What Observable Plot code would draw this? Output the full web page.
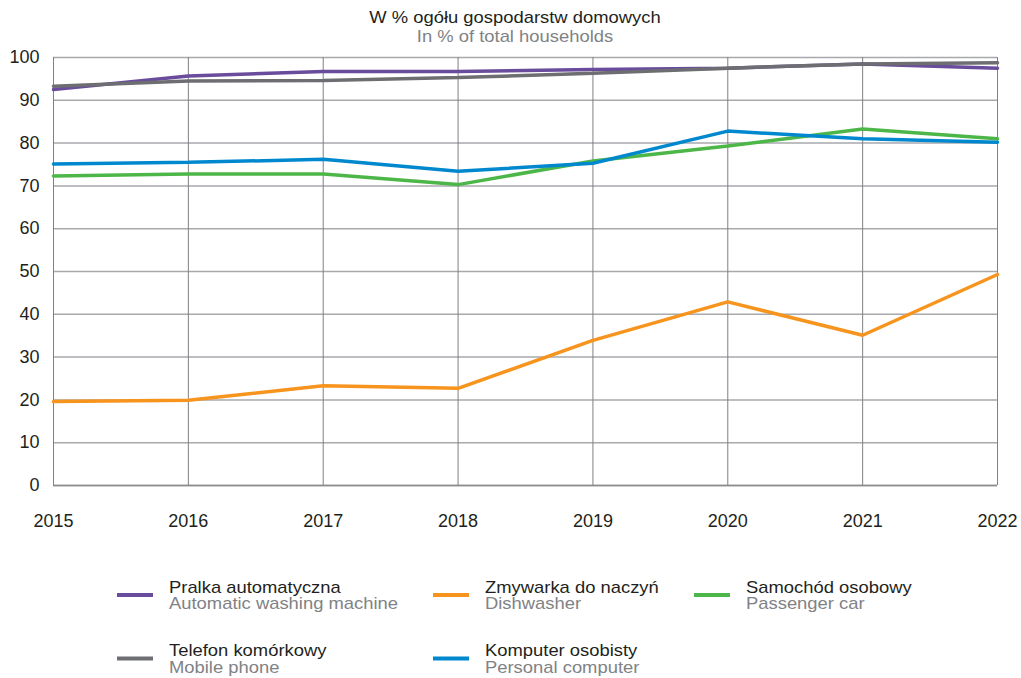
<!DOCTYPE html>
<html>
<head>
<meta charset="utf-8">
<script src="https://cdn.jsdelivr.net/npm/d3@7"></script>
<script src="https://cdn.jsdelivr.net/npm/@observablehq/plot@0.6"></script>
<style>
  html, body { margin: 0; padding: 0; background: #fff; overflow: hidden; }
  #wrap { width: 1021px; }
  #wrap svg { display: block; }
</style>
</head>
<body>
<div id="wrap"></div>
<script>
// ---- data ----
const years = [2015, 2016, 2017, 2018, 2019, 2020, 2021, 2022];
const pralka   = [92.5, 95.7, 96.7, 96.7, 97.2, 97.5, 98.5, 97.5];
const zmywarka = [19.6, 19.9, 23.3, 22.7, 33.9, 42.9, 35.1, 49.3];
const samochod = [72.3, 72.8, 72.8, 70.3, 75.8, 79.3, 83.3, 81.0];
const telefon  = [93.3, 94.5, 94.6, 95.3, 96.3, 97.5, 98.5, 98.8];
const komputer = [75.1, 75.5, 76.2, 73.4, 75.3, 82.8, 81.0, 80.2];

const seriesPL = ["Pralka automatyczna", "Zmywarka do naczyń", "Samochód osobowy", "Telefon komórkowy", "Komputer osobisty"];
const seriesEN = ["Automatic washing machine", "Dishwasher", "Passenger car", "Mobile phone", "Personal computer"];
const seriesColors = ["#6a4c9c", "#f7941d", "#4cb748", "#6d6e71", "#0088cf"];
const seriesValues = [pralka, zmywarka, samochod, telefon, komputer];
const yTicks = [0, 10, 20, 30, 40, 50, 60, 70, 80, 90, 100];

const titlePL = "W % ogółu gospodarstw domowych";
const titleEN = "In % of total households";

const data = [];
seriesPL.forEach((s, i) => years.forEach((y, j) => data.push({series: s, year: y, value: seriesValues[i][j]})));

const FONT = "'Liberation Sans', Arial, Helvetica, sans-serif";
const TXT = "#231f20";
const SUB = "#808285";
const wrap = d3.select("#wrap");

// ---- title (above the plot) ----
const t = wrap.append("svg").attr("width", 1021).attr("height", 48)
  .style("font-family", FONT);
t.append("text").attr("transform", "translate(515,23.3) scale(1.15,1)")
  .attr("text-anchor", "middle").attr("font-size", 16).attr("fill", TXT).text(titlePL);
t.append("text").attr("transform", "translate(515,41.7) scale(1.15,1)")
  .attr("text-anchor", "middle").attr("font-size", 16).attr("fill", SUB).text(titleEN);

// ---- plot ----
const chart = Plot.plot({
  width: 1021,
  height: 500,
  marginTop: 9,
  marginBottom: 63,
  marginLeft: 53,
  marginRight: 24,
  style: {fontFamily: FONT, fontSize: "18px", color: TXT, background: "#fff"},
  x: {domain: [2015, 2022]},
  y: {domain: [0, 100]},
  color: {domain: seriesPL, range: seriesColors},
  marks: [
    Plot.gridY(yTicks, {stroke: "#a7a9ac", strokeOpacity: 1, strokeWidth: 1.5}),
    Plot.gridX(years, {stroke: "#808080", strokeOpacity: 1, strokeWidth: 1}),
    Plot.ruleY([0], {stroke: "#8a8a8a", strokeWidth: 1.5}),
    Plot.axisY(yTicks, {tickSize: 0, tickPadding: 14, label: null, fill: TXT}),
    Plot.axisX(years, {tickSize: 0, tickPadding: 29, tickFormat: d => String(d), label: null, fill: TXT}),
    Plot.line(data, {x: "year", y: "value", z: "series", stroke: "series", strokeWidth: 3.5, strokeLinejoin: "miter", curve: "linear"})
  ]
});
wrap.node().appendChild(chart);

// ---- legend (below the plot) ----
const colX = [117, 433, 694];
const rowY = [0, 63.5];
const lg = wrap.append("svg").attr("width", 1021).attr("height", 130)
  .style("font-family", FONT);
seriesPL.forEach((name, i) => {
  const x = colX[i % 3];
  const y = rowY[Math.floor(i / 3)];
  lg.append("line").attr("x1", x).attr("x2", x + 36).attr("y1", y + 47).attr("y2", y + 47)
    .attr("stroke", seriesColors[i]).attr("stroke-width", 4);
  lg.append("text").attr("transform", `translate(${x + 52},${y + 44.7}) scale(1.15,1)`)
    .attr("font-size", 16).attr("fill", TXT).text(name);
  lg.append("text").attr("transform", `translate(${x + 52},${y + 61.3}) scale(1.15,1)`)
    .attr("font-size", 16).attr("fill", SUB).text(seriesEN[i]);
});
</script>
</body>
</html>
